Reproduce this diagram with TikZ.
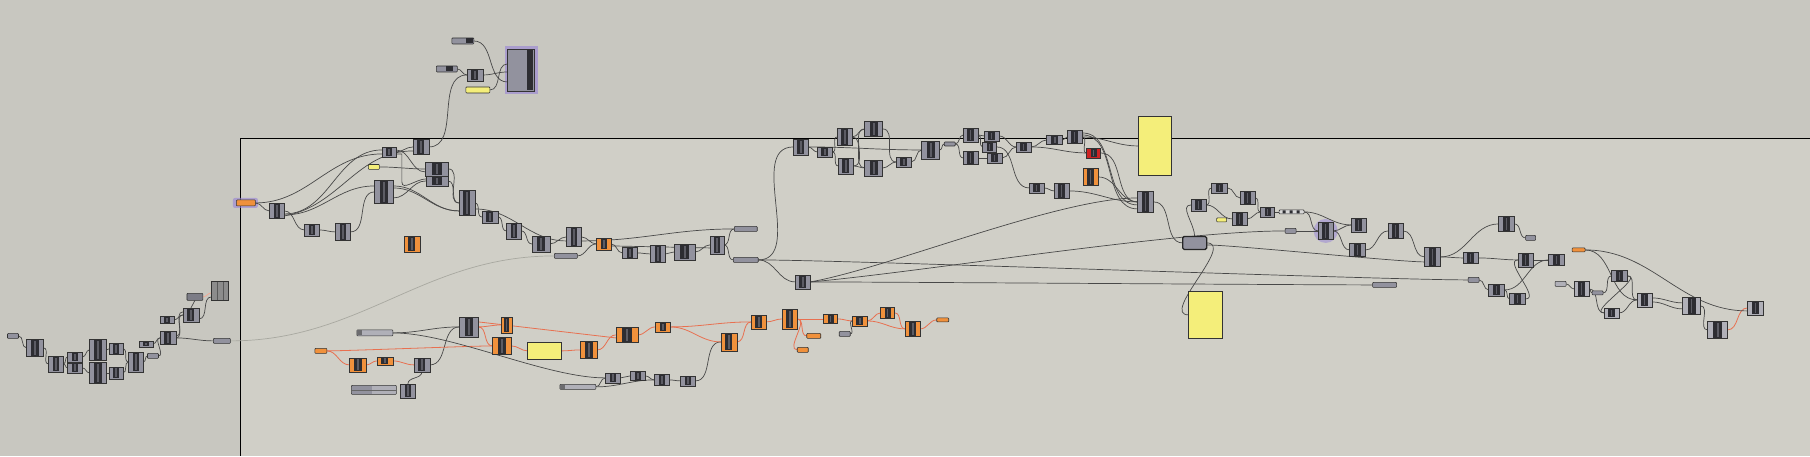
\documentclass[tikz,border=0pt]{standalone}
\usetikzlibrary{calc}
\pgfdeclarelayer{bg}\pgfdeclarelayer{wires}\pgfsetlayers{bg,wires,main}
\definecolor{bgout}{RGB}{200,199,192}
\definecolor{bgin}{RGB}{208,207,199}
\definecolor{cgray}{RGB}{146,146,158}
\definecolor{clight}{RGB}{176,176,184}
\definecolor{cdark}{RGB}{45,45,50}
\definecolor{cmid}{RGB}{92,92,100}
\definecolor{corange}{RGB}{240,145,60}
\definecolor{cred}{RGB}{205,35,35}
\definecolor{cyellow}{RGB}{244,238,122}
\definecolor{wgray}{RGB}{72,72,72}
\definecolor{worange}{RGB}{232,112,80}
\definecolor{wfaint}{RGB}{168,168,160}
\definecolor{glow}{RGB}{150,130,215}
\tikzset{
 cmp/.style={draw=black!80, line width=0.6pt, inner sep=0pt, outer sep=0pt, rectangle},
 prmst/.style={draw=black!80, line width=0.6pt, inner sep=0pt, outer sep=0pt, rectangle, rounded corners=0.8pt},
 panelst/.style={draw=black!80, line width=0.8pt, fill=cyellow, inner sep=0pt, outer sep=0pt, rectangle},
 w/.style={draw=wgray, line width=0.7pt},
 wo/.style={draw=worange, line width=0.8pt},
 wf/.style={draw=wfaint, line width=0.7pt},
 gw/.style={out=0,in=180},
}
% component: name, cx, cy, w, h, fill
\newcommand\cmpx[6]{\node[cmp,fill=#6,minimum width=#4,minimum height=#5] (#1) at (#2,#3) {};
 \fill[cdark] ({#2-0.22*#4},{#3-#5/2+0.6}) rectangle ({#2+0.22*#4},{#3+#5/2-0.6});
 \fill[cmid] ({#2-0.05*#4},{#3-#5/2+1.6}) rectangle ({#2+0.05*#4},{#3+#5/2-1.6});}
\newcommand\cgr[5]{\cmpx{#1}{#2}{#3}{#4}{#5}{cgray}}
\newcommand\cor[5]{\cmpx{#1}{#2}{#3}{#4}{#5}{corange}}
\newcommand\prm[6]{\node[prmst,fill=#6,minimum width=#4,minimum height=#5] (#1) at (#2,#3) {};}
\newcommand\pnl[5]{\node[panelst,minimum width=#4,minimum height=#5] (#1) at (#2,#3) {};}
\newcommand\cnx[3][w]{\begin{pgfonlayer}{wires}\draw[#1] (#2.east) to[gw] (#3.west);\end{pgfonlayer}}
\begin{document}
\begin{tikzpicture}[x=1pt,y=-1pt]
\begin{pgfonlayer}{bg}
\fill[bgout] (0,0) rectangle (1810,456);
\fill[bgin] (241,139) rectangle (1810,456);
\draw[black, line width=1pt] (241,456) -- (241,139) -- (1810,139);
\end{pgfonlayer}
\useasboundingbox (0,0) rectangle (1810,456);

% ---------- left cluster ----------
\prm{L1}{13}{336}{11}{5}{cgray}
\cgr{L2}{35}{348}{17}{17}
\cgr{L3}{56}{364}{15}{16}
\cgr{L4}{75}{357}{15}{10}
\cgr{L5}{75}{368}{15}{10}
\cgr{L6}{98}{350}{17}{21}
\cgr{L7}{98}{373}{17}{21}
\cgr{L8}{116}{349}{14}{11}
\cgr{L9}{116}{373}{14}{12}
\cgr{L10}{136}{362}{15}{20}
\cgr{L11}{146}{344}{14}{6}
\prm{L12}{153}{356}{11}{5}{cgray}
\cgr{L13}{167}{320}{14}{7}
\cgr{L14}{168}{338}{16}{13}
\cgr{L15}{191}{315}{16}{14}
\prm{L16}{195}{297}{16}{7}{cgray!85!black}
\node[cmp,fill=black!45,minimum width=17,minimum height=19] (L17) at (220,291) {};
\draw[black!65] (217,282) -- (217,300) (223,282) -- (223,300);
\prm{L18}{222}{341}{17}{5}{cgray}

% ---------- upper left ----------
\begin{pgfonlayer}{wires}
\fill[glow,opacity=0.6,rounded corners=2pt] (233,198) rectangle (258,208);
\fill[glow,opacity=0.6] (505,46) rectangle (538,94);
\fill[glow,opacity=0.5] (1326,231) circle (12);
\end{pgfonlayer}
\prm{A0}{246}{203}{19}{6}{corange}
\cgr{A1}{277}{211}{15}{15}
\cgr{A2}{312}{230}{15}{12}
\cgr{A3}{343}{232}{15}{17}
\cgr{A4}{389}{152}{14}{10}
\cgr{A5}{421}{147}{16}{15}
\prm{A6}{374}{167}{11}{5}{cyellow}
\cgr{A7}{384}{192}{19}{23}
\cgr{A8}{437}{169}{23}{14}
\cgr{A9}{437}{181}{22}{10}
\cgr{A10}{467}{203}{16}{25}
\cgr{A11}{490}{217}{16}{12}
\cgr{A12}{514}{231}{15}{16}
\cgr{A13}{541}{244}{18}{16}
\cor{A14}{412}{244}{16}{16}
\prm{T1}{463}{41}{22}{6}{cgray}
\fill[cdark] (466,38.5) rectangle (473.5,43.5);
\prm{T2}{447}{69}{21}{6}{cgray}
\fill[cdark] (446,66.5) rectangle (453,71.5);
\cgr{T3}{475}{75}{16}{12}
\prm{T4}{478}{90}{24}{6}{cyellow}
\node[cmp,fill=cgray,minimum width=27,minimum height=42] (T5) at (521,70) {};
\fill[cdark] (527,50) rectangle (533,90);

% ---------- middle ----------
\cgr{B1}{574}{237}{15}{19}
\cor{B2}{604}{244}{15}{12}
\prm{B3}{566}{256}{23}{5}{cgray}
\cgr{B4}{630}{253}{15}{11}
\cgr{B5}{658}{254}{15}{17}
\cgr{B6}{685}{252}{21}{16}
\cgr{B7}{717}{245}{14}{18}
\prm{B8}{746}{229}{23}{5}{cgray}
\prm{B9}{746}{260}{25}{5}{cgray}
\cgr{B10}{803}{282}{15}{14}

% ---------- bottom ----------
\prm{C1}{375}{333}{36}{6}{clight}
\fill[cdark!70] (357.5,330.5) rectangle (362,335.5);
\cgr{C2}{469}{327}{19}{20}
\cor{C3}{507}{325}{11}{16}
\cor{C4}{502}{346}{19}{17}
\pnl{C5}{545}{351}{34}{18}
\cor{C6}{589}{350}{17}{17}
\cor{C7}{627}{335}{22}{15}
\cor{C8}{663}{327}{15}{10}
\prm{C9}{321}{351}{12}{5}{corange}
\cor{C10}{358}{365}{17}{14}
\cor{C11}{385}{361}{16}{8}
\cgr{C12}{422}{365}{16}{14}
\prm{C13}{374}{390}{45}{9}{clight}
\fill[cgray] (352.5,386) rectangle (372,394);
\draw[black!60] (352,390) -- (396,390);
\cgr{C14}{408}{391}{15}{14}
\cgr{C15}{613}{378}{15}{10}
\cgr{C16}{638}{376}{15}{9}
\cgr{C17}{662}{380}{15}{11}
\cgr{C18}{688}{381}{15}{10}
\prm{C19}{578}{387}{36}{5}{clight}
\fill[cdark!70] (560.5,385) rectangle (565,389);
\cor{D1}{729}{342}{16}{18}
\cor{D2}{759}{322}{15}{14}
\cor{D3}{790}{319}{15}{20}
\prm{D4}{814}{336}{14}{5}{corange}
\prm{D5}{803}{350}{11}{5}{corange}
\cor{D6}{831}{319}{14}{9}
\prm{D7}{845}{334}{11}{5}{cgray}
\cor{D8}{860}{321}{15}{10}
\cor{D9}{888}{313}{14}{11}
\cor{D10}{913}{329}{15}{15}
\prm{D11}{943}{320}{12}{4}{corange}

% ---------- top middle ----------
\cgr{E1}{801}{147}{15}{16}
\cgr{E2}{825}{152}{15}{10}
\cgr{E3}{845}{137}{15}{17}
\cgr{E4}{874}{129}{18}{15}
\cgr{E5}{846}{166}{15}{16}
\cgr{E6}{874}{168}{18}{16}
\cgr{E7}{904}{162}{15}{10}
\cgr{E8}{931}{150}{18}{18}
\prm{E9}{950}{144}{11}{4}{cgray}
\cgr{E10}{971}{135}{15}{14}
\cgr{E11}{971}{158}{15}{13}
\cgr{E12}{992}{136}{15}{10}
\cgr{E13}{990}{147}{14}{10}
\cgr{E14}{995}{158}{15}{10}
\cgr{E15}{1024}{147}{15}{10}
\cgr{E16}{1055}{140}{16}{9}
\cgr{E17}{1075}{137}{15}{13}
\cmpx{E18}{1094}{153}{14}{10}{cred}
\cor{E19}{1091}{177}{15}{17}
\pnl{E20}{1155}{146}{33}{59}
\cgr{E21}{1037}{188}{15}{10}
\cgr{E22}{1062}{191}{15}{15}
\cgr{E23}{1146}{202}{16}{21}

% ---------- right middle ----------
\cgr{F1}{1199}{205}{15}{12}
\cgr{F2}{1220}{188}{16}{10}
\cgr{F3}{1248}{198}{15}{13}
\prm{F4}{1222}{220}{10}{4}{cyellow}
\cgr{F5}{1240}{219}{15}{13}
\cgr{F6}{1268}{212}{14}{10}
\prm{F7}{1292}{212}{25}{4}{black!15}
\fill[cdark] (1283,210.5) rectangle (1286,213.5) (1290,210.5) rectangle (1293,213.5) (1297,210.5) rectangle (1300,213.5);
\prm{F8}{1291}{231}{11}{5}{cgray}
\cgr{F9}{1326}{231}{15}{17}
\cgr{F10}{1359}{225}{15}{14}
\cgr{F11}{1358}{250}{16}{13}
\node[draw=black!85,line width=1.3pt,fill=cgray,rounded corners=1.5pt,minimum width=24,minimum height=13,inner sep=0pt,outer sep=0pt] (F12) at (1195,243) {};
\pnl{F13}{1206}{315}{34}{47}
\prm{F14}{1385}{285}{24}{5}{cgray}

% ---------- right ----------
\cgr{G1}{1396}{231}{15}{15}
\cgr{G2}{1433}{257}{16}{19}
\cgr{G3}{1471}{258}{15}{11}
\cgr{G4}{1507}{224}{16}{15}
\prm{G5}{1531}{238}{10}{5}{cgray}
\cgr{G6}{1526}{260}{15}{14}
\cgr{G7}{1557}{260}{16}{11}
\prm{G8}{1474}{280}{11}{5}{cgray}
\cgr{G9}{1497}{290}{16}{12}
\cgr{G10}{1518}{299}{16}{11}
\prm{H1}{1579}{250}{13}{4}{corange}
\prm{H2}{1561}{284}{11}{5}{clight}
\cmpx{H3}{1582}{289}{15}{15}{clight}
\prm{H4}{1598}{293}{11}{4}{cgray}
\cgr{H5}{1620}{276}{16}{11}
\cmpx{H6}{1612}{313}{15}{10}{clight}
\cmpx{H7}{1645}{300}{15}{14}{clight}
\cmpx{H8}{1692}{306}{18}{17}{clight}
\cmpx{H9}{1718}{330}{20}{17}{clight}
\cmpx{H10}{1756}{308}{16}{14}{clight}

% ================= wires =================
% left
\cnx{L1}{L2}\cnx{L2}{L3}\cnx{L3}{L4}\cnx{L3}{L5}\cnx{L4}{L6}\cnx{L5}{L7}
\cnx{L6}{L8}\cnx{L7}{L9}\cnx{L8}{L10}\cnx{L9}{L10}\cnx{L10}{L12}\cnx{L12}{L14}
\cnx{L11}{L14}\cnx{L13}{L15}\cnx{L14}{L15}\cnx{L14}{L18}
\begin{pgfonlayer}{wires}
\draw[w] ([yshift=2]L14.east) to[out=0,in=180] ([yshift=3]L15.west);
\draw[w] (L15.north) -- (L16.south);
\draw[wo,draw=worange!60] (L16.east) to[out=0,in=180] ([yshift=-2]L17.west);
\draw[w] ([yshift=-4]L15.east) to[out=0,in=180] ([yshift=-6]L17.west);
\draw[wf] (L18.east) to[out=0,in=180] (B3.west);
\end{pgfonlayer}
% upper left
\cnx{A0}{A1}\cnx{A1}{A2}\cnx{A2}{A3}\cnx{A3}{A7}\cnx{A4}{A5}\cnx{A6}{A8}
\cnx{A8}{A10}\cnx{A9}{A10}\cnx{A10}{A11}\cnx{A11}{A12}\cnx{A12}{A13}\cnx{A13}{B1}
\cnx{A5}{T3}\cnx{T2}{T3}
\begin{pgfonlayer}{wires}
\draw[w] (A0.east) to[out=0,in=180] ([yshift=-2]A4.west);
\draw[w] ([yshift=-3]A1.east) to[out=0,in=180] ([yshift=2]A4.west);
\draw[w] ([yshift=-5]A1.east) to[out=10,in=180] ([yshift=-4]A5.west);
\draw[w] ([yshift=-4]A1.east) to[out=0,in=180] ([yshift=6]A7.west);
\draw[w] ([yshift=6]A7.east) to[out=0,in=180] ([yshift=-8]A10.west);
\draw[w] ([yshift=-6]A7.east) to[out=0,in=180] (A9.west);
\draw[w] ([yshift=2]A4.east) to[out=0,in=180] ([yshift=-3]A8.west);
\draw[w] ([yshift=-2]A4.east) -- ++(6,0) -- ++(0,28) to[out=-90,in=180] ([yshift=2]A9.west);
\draw[w] ([yshift=-6]A10.east) to[out=0,in=180] ([yshift=-4]B1.west);
\draw[w] (T1.east) to[out=0,in=180] ([yshift=-12]T5.west);
\draw[w] (T3.east) to[out=0,in=180] ([yshift=-2]T5.west);
\draw[w] (T4.east) to[out=0,in=180] ([yshift=6]T5.west);
\draw[w] ([yshift=4]A7.east) to[out=0,in=180] ([yshift=-8]A10.west);
\end{pgfonlayer}
% middle
\cnx{B1}{B2}\cnx{B3}{B2}\cnx{B2}{B4}\cnx{B4}{B5}\cnx{B5}{B6}\cnx{B6}{B7}
\cnx{B7}{B8}\cnx{B7}{B9}\cnx{B9}{B10}\cnx{B9}{E1}
\begin{pgfonlayer}{wires}
\draw[w] ([yshift=-4]B1.east) to[out=0,in=180] (B8.west);
\draw[w] ([yshift=-2]B2.east) -- ([yshift=-3]B7.west);
\draw[w] (B9.east) to[out=0,in=180,looseness=0.3] (G8.west);
\draw[w] (B10.east) to[out=0,in=180,looseness=0.3] (F14.west);
\draw[w] (B10.east) to[out=10,in=180,looseness=0.6] ([yshift=4]E23.west);
\draw[w] (B10.east) to[out=5,in=180,looseness=0.6] (F8.west);
\end{pgfonlayer}
% bottom
\cnx[wo]{C9}{C10}\cnx[wo]{C10}{C11}\cnx[wo]{C11}{C12}\cnx{C12}{C2}
\cnx{C1}{C2}\cnx[wo]{C2}{C3}\cnx[wo]{C2}{C4}\cnx[wo]{C4}{C5}\cnx[wo]{C5}{C6}
\cnx[wo]{C6}{C7}\cnx[wo]{C7}{C8}\cnx{C19}{C15}\cnx{C19}{C17}\cnx{C15}{C16}
\cnx{C16}{C17}\cnx{C17}{C18}\cnx{C18}{D1}\cnx[wo]{C8}{D2}\cnx[wo]{C8}{D1}
\cnx[wo]{D1}{D2}\cnx[wo]{D2}{D3}\cnx[wo]{D3}{D6}\cnx[wo]{D3}{D4}\cnx[wo]{D3}{D5}
\cnx[wo]{D6}{D8}\cnx{D7}{D8}\cnx[wo]{D8}{D9}\cnx[wo]{D8}{D10}\cnx[wo]{D9}{D10}
\cnx[wo]{D10}{D11}
\begin{pgfonlayer}{wires}
\draw[wo] (C9.east) to[out=0,in=180,looseness=0.3] (C4.west);
\draw[w] (C14.north) to[out=90,in=-90] (C12.south);
\draw[w] (C1.east) to[out=0,in=180,looseness=0.7] (C15.west);
\draw[wo] ([yshift=5]C2.east) -- ([yshift=-3]C7.west);
\end{pgfonlayer}
% top middle
\cnx{E1}{E2}\cnx{E2}{E3}\cnx{E2}{E5}\cnx{E3}{E4}\cnx{E3}{E6}\cnx{E5}{E6}
\cnx{E5}{E4}\cnx{E4}{E7}\cnx{E6}{E7}\cnx{E7}{E8}\cnx{E1}{E8}\cnx{E8}{E9}
\cnx{E9}{E10}\cnx{E9}{E11}\cnx{E10}{E12}\cnx{E10}{E13}\cnx{E11}{E14}
\cnx{E12}{E15}\cnx{E14}{E15}\cnx{E13}{E21}\cnx{E15}{E16}\cnx{E15}{E18}
\cnx{E16}{E17}\cnx{E17}{E20}\cnx{E17}{E18}\cnx{E21}{E22}\cnx{E22}{E23}
\cnx{E18}{E23}\cnx{E19}{E23}\cnx{E23}{F12}\cnx{F12}{F13}
\begin{pgfonlayer}{wires}
\draw[w] ([yshift=2]E17.east) to[out=0,in=180] ([yshift=-7]E23.west);
\draw[w] ([yshift=4]E17.east) to[out=0,in=180] ([yshift=-3]E23.west);
\draw[w] ([yshift=-2]F12.east) to[out=0,in=180,looseness=0.3] ([yshift=-5]G2.west);
\draw[w] (F1.west) to[out=180,in=90] (F12.north);
\end{pgfonlayer}
% right middle
\cnx{F1}{F2}\cnx{F1}{F5}\cnx{F2}{F3}\cnx{F3}{F6}\cnx{F5}{F6}\cnx{F6}{F7}
\cnx{F7}{F10}\cnx{F7}{F9}\cnx{F8}{F9}\cnx{F9}{F10}\cnx{F9}{F11}\cnx{F11}{G1}
% right
\cnx{G1}{G2}\cnx{G2}{G3}\cnx{G2}{G4}\cnx{G4}{G5}\cnx{G3}{G6}\cnx{G6}{G7}
\cnx{G8}{G9}\cnx{G9}{G7}\cnx{G10}{G6}\cnx{G9}{G10}
\cnx{H2}{H3}\cnx{H3}{H6}\cnx{H4}{H5}\cnx{H5}{H7}\cnx{H6}{H7}\cnx{H5}{H6}
\cnx{H1}{H7}\cnx{H8}{H9}\cnx[wo]{H9}{H10}\cnx{H3}{H4}
\begin{pgfonlayer}{wires}
\draw[w] ([yshift=-2]H7.east) to[out=0,in=180] ([yshift=-3]H8.west);
\draw[w] ([yshift=2]H7.east) to[out=0,in=180] ([yshift=3]H8.west);
\draw[w] (H1.east) to[out=0,in=180] ([yshift=-3]H10.west);
\end{pgfonlayer}
\end{tikzpicture}
\end{document}
